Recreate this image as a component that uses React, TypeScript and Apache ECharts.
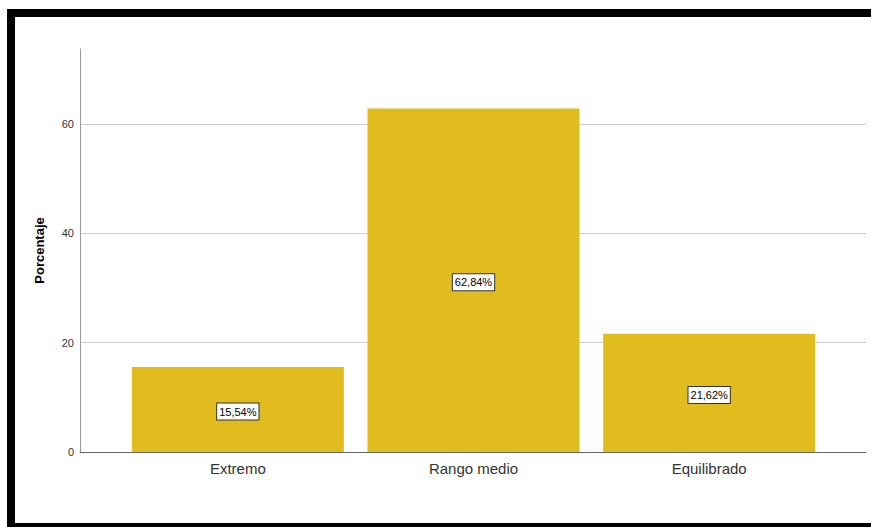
import React, { useEffect, useRef } from "react";
import * as echarts from "echarts";

const categories = ["Extremo", "Rango medio", "Equilibrado"];
const percentages = [15.54, 62.84, 21.62];
const yTicks = [0, 20, 40, 60];
const yAxisName = "Porcentaje";

const FONT = "'Liberation Sans', Arial, sans-serif";

export default function App() {
  const ref = useRef<HTMLDivElement>(null);
  useEffect(() => {
    document.body.style.margin = "0";
    if (!ref.current) return;
    const chart = echarts.init(ref.current, undefined, { renderer: "svg" });
    const yMax = 73.7;
    chart.setOption({
      animation: false,
      backgroundColor: "#ffffff",
      grid: [
        { left: 80, right: 5, top: 49, bottom: 75 },
        { left: 120, right: 44, top: 49, bottom: 75 },
      ],
      xAxis: [
        {
          gridIndex: 0,
          type: "value",
          min: 0,
          max: 1,
          axisLine: { show: true, lineStyle: { color: "#666666", width: 1 } },
          axisTick: { show: false },
          axisLabel: { show: false },
          splitLine: { show: false },
        },
        {
          gridIndex: 1,
          type: "category",
          data: categories,
          axisLine: { show: false },
          axisTick: { show: false },
          axisLabel: {
            color: "#333333",
            fontFamily: FONT,
            fontSize: 15,
            margin: 9,
          },
        },
      ],
      yAxis: [
        {
          gridIndex: 0,
          type: "value",
          min: yTicks[0],
          max: yMax,
          interval: yTicks[1] - yTicks[0],
          name: yAxisName,
          nameLocation: "middle",
          nameGap: 34,
          nameTextStyle: {
            color: "#000000",
            fontFamily: FONT,
            fontSize: 13,
            fontWeight: "bold",
          },
          axisLine: { show: true, lineStyle: { color: "#999999", width: 1 } },
          axisTick: { show: false },
          axisLabel: {
            color: "#333333",
            fontFamily: FONT,
            fontSize: 11,
            margin: 6,
            showMaxLabel: false,
          },
          splitLine: {
            show: true,
            showMinLine: false,
            showMaxLine: false,
            lineStyle: { color: "#cccccc", width: 1 },
          },
        },
        {
          gridIndex: 1,
          type: "value",
          min: 0,
          max: yMax,
          show: false,
          splitLine: { show: false },
        },
      ],
      series: [
        {
          type: "bar",
          xAxisIndex: 1,
          yAxisIndex: 1,
          data: percentages,
          barWidth: 212,
          itemStyle: { color: "#E0BC1F" },
          label: {
            show: true,
            position: "inside",
            offset: [0, 2],
            formatter: (p: any) => p.value.toFixed(2).replace(".", ",") + "%",
            color: "#000000",
            fontFamily: FONT,
            fontSize: 11,
            backgroundColor: "#ffffff",
            borderColor: "#333333",
            borderWidth: 1,
            padding: [3, 2, 2, 2],
          },
        },
      ],
      graphic: [
        {
          type: "rect",
          z: 100,
          shape: { x: 11, y: 13, width: 900, height: 514 },
          style: { fill: "none", stroke: "#000000", lineWidth: 8 },
        },
      ],
    });
    return () => chart.dispose();
  }, []);
  return <div ref={ref} style={{ width: 871, height: 527 }} />;
}
